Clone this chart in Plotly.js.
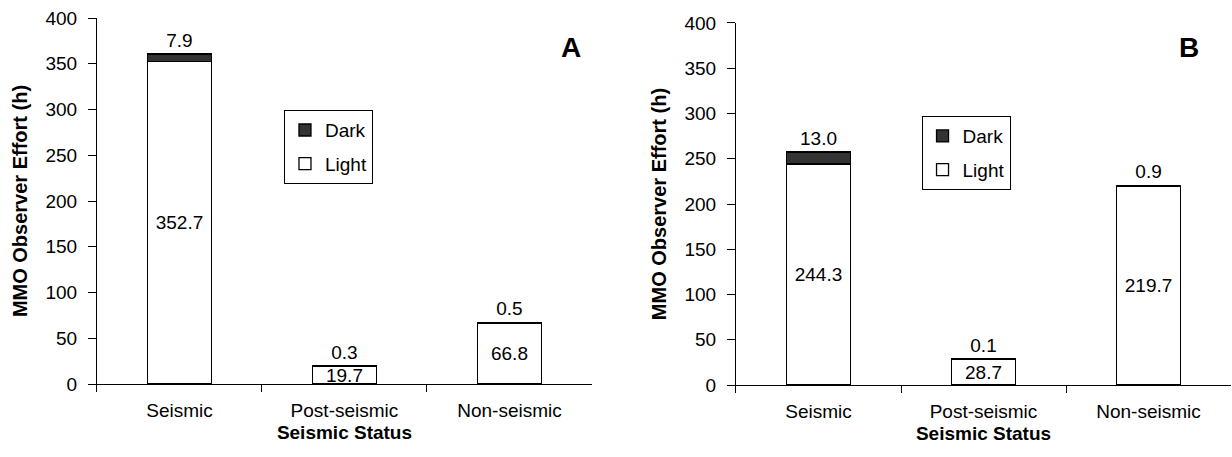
<!DOCTYPE html>
<html>
<head>
<meta charset="utf-8">
<script src="https://cdn.plot.ly/plotly-3.0.1.min.js"></script>
<style>html,body{margin:0;padding:0;background:#fff;}#chart{width:1232px;height:457px;}</style>
</head>
<body>
<div id="chart"></div>
<script>
const categories = ['Seismic', 'Post-seismic', 'Non-seismic'];
const lightA = [352.7, 19.7, 66.8];
const darkA = [7.9, 0.3, 0.5];
const lightB = [244.3, 28.7, 219.7];
const darkB = [13.0, 0.1, 0.9];
const seriesNames = ['Light', 'Dark'];
const panelLabels = ['A', 'B'];
const yTitle = 'MMO Observer Effort (h)';
const xTitle = 'Seismic Status';

const FONT = 'Liberation Sans, Arial, sans-serif';
const FS = 19;
const TFS = 20;
const DARK = '#333333';

function lightTrace(y, xa, ya, leg) {
  return {
    type: 'bar', x: categories, y: y, name: seriesNames[0],
    xaxis: xa, yaxis: ya, legend: leg, legendgroup: 'l' + leg, legendrank: 2,
    marker: {color: '#ffffff', line: {color: '#000000', width: 1.3}},
    width: 0.39,
    texttemplate: '%{y:.1f}', textposition: 'inside', insidetextanchor: 'middle',
    constraintext: 'none', cliponaxis: false,
    insidetextfont: {family: FONT, size: FS, color: '#000'},
    hoverinfo: 'skip'
  };
}
function darkTrace(y, xa, ya, leg) {
  return {
    type: 'bar', x: categories, y: y, name: seriesNames[1],
    xaxis: xa, yaxis: ya, legend: leg, legendgroup: 'd' + leg, legendrank: 1,
    marker: {color: DARK, line: {color: '#000000', width: 1.3}},
    width: 0.39,
    texttemplate: '%{y:.1f}', textposition: 'outside',
    constraintext: 'none', cliponaxis: false,
    outsidetextfont: {family: FONT, size: FS, color: '#000'},
    hoverinfo: 'skip'
  };
}

const data = [
  lightTrace(lightA, 'x', 'y', 'legend'),
  darkTrace(darkA, 'x', 'y', 'legend'),
  lightTrace(lightB, 'x2', 'y2', 'legend2'),
  darkTrace(darkB, 'x2', 'y2', 'legend2')
];

function xax(domain, anchor) {
  return {
    domain: domain, anchor: anchor, type: 'category', range: [-0.5, 2.5],
    showline: true, linecolor: '#000', linewidth: 1,
    ticks: 'outside', tickson: 'boundaries', ticklen: 7, tickcolor: '#000', tickwidth: 1,
    showgrid: false, zeroline: false, automargin: false, fixedrange: true,
    tickfont: {family: FONT, size: FS, color: '#000'}, ticklabelstandoff: 9,
    title: {text: '<b>' + xTitle + '</b>', font: {family: FONT, size: TFS - 1, color: '#000'}, standoff: 5}
  };
}
function yax(domain, anchor) {
  return {
    domain: domain, anchor: anchor, range: [0, 400], dtick: 50, tick0: 0,
    showline: true, linecolor: '#000', linewidth: 1,
    ticks: 'outside', ticklen: 8, tickcolor: '#000', tickwidth: 1,
    showgrid: false, zeroline: false, automargin: false, fixedrange: true,
    tickfont: {family: FONT, size: FS, color: '#000'}, ticklabelstandoff: 7,
    title: {text: '<b>' + yTitle + '</b>', font: {family: FONT, size: TFS, color: '#000'}, standoff: 12}
  };
}

const legendCommon = {
  bgcolor: '#ffffff', bordercolor: '#000', borderwidth: 1,
  font: {family: FONT, size: FS, color: '#000'},
  traceorder: 'grouped', tracegroupgap: 6, itemwidth: 30,
  xanchor: 'left', yanchor: 'top', itemclick: false, itemdoubleclick: false
};

const layout = {
  width: 1232, height: 457,
  margin: {l: 0, r: 0, t: 0, b: 0},
  paper_bgcolor: '#fff', plot_bgcolor: '#fff',
  barmode: 'stack', bargap: 0.6,
  font: {family: FONT, size: FS, color: '#000'},
  xaxis: xax([0.0787, 0.4805], 'y'),
  yaxis: yax([0.1597, 0.9606], 'x'),
  xaxis2: xax([0.5974, 0.9992], 'y2'),
  yaxis2: yax([0.1575, 0.9497], 'x2'),
  legend: Object.assign({}, legendCommon, {x: 0.2305, y: 0.759}),
  legend2: Object.assign({}, legendCommon, {x: 0.748, y: 0.746}),
  annotations: [
    {xref: 'paper', yref: 'paper', x: 571 / 1232, y: 1 - 47 / 457, yanchor: 'middle', text: '<b>' + panelLabels[0] + '</b>',
     showarrow: false, font: {family: FONT, size: 28, color: '#000'}},
    {xref: 'paper', yref: 'paper', x: 1201 / 1232, y: 1 - 47 / 457, yanchor: 'middle', text: '<b>' + panelLabels[1] + '</b>',
     showarrow: false, font: {family: FONT, size: 28, color: '#000'}}
  ]
};

Plotly.newPlot('chart', data, layout, {staticPlot: true, displayModeBar: false});
</script>
</body>
</html>
